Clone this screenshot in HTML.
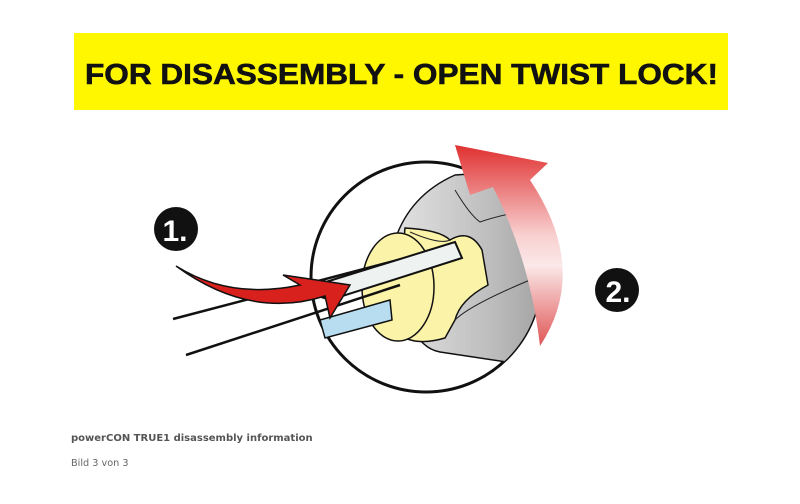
<!DOCTYPE html>
<html><head><style>
body{margin:0;background:#fff;width:800px;height:504px;overflow:hidden;font-family:"Liberation Sans",sans-serif}
.cap{position:absolute;left:71px;top:433px;font-size:10px;font-weight:bold;color:#555;font-family:"DejaVu Sans","Liberation Sans",sans-serif}
.sub{position:absolute;left:71px;top:458px;font-size:9.7px;color:#666;font-family:"DejaVu Sans","Liberation Sans",sans-serif}
</style></head><body>
<svg width="800" height="504" style="position:absolute;left:0;top:0">
<defs>
<linearGradient id="rg" x1="0" y1="0" x2="0" y2="1">
<stop offset="0" stop-color="#e03030"/><stop offset="0.45" stop-color="#f8d0d0"/><stop offset="0.6" stop-color="#fbe8e8"/><stop offset="1" stop-color="#e05555"/></linearGradient>
<linearGradient id="gg" x1="0" y1="0" x2="1" y2="0">
<stop offset="0" stop-color="#e2e2e2"/><stop offset="0.6" stop-color="#bcbcbc"/><stop offset="1" stop-color="#9a9a9a"/></linearGradient>
<clipPath id="cc"><circle cx="426" cy="277" r="115"/></clipPath>
</defs>
<rect x="74" y="33" width="654" height="77" fill="#fff700"/>
<text x="85" y="84" textLength="633" lengthAdjust="spacingAndGlyphs" font-size="29" font-weight="bold" fill="#111" stroke="#111" stroke-width="0.6">FOR DISASSEMBLY - OPEN TWIST LOCK!</text>
<circle cx="426" cy="277" r="115" fill="#fff" stroke="#111" stroke-width="3"/>
<g clip-path="url(#cc)">
<path d="M395 240 Q410 195 455 175 L560 168 L560 370 L440 352 Q400 345 395 240Z" fill="url(#gg)" stroke="#111" stroke-width="1.5"/>
<path d="M405 228 Q440 230 450 240 Q470 228 482 250 L488 285 Q460 300 455 320 L445 338 Q410 348 395 330 Z" fill="#fbf3a8" stroke="#111" stroke-width="1.5"/>
<path d="M410 232 Q440 245 450 240 M455 190 Q470 215 480 222 Q500 215 530 210 M455 320 Q470 305 530 280" stroke="#222" fill="none"/>
</g>
<ellipse cx="398" cy="287" rx="36" ry="54" fill="#fbf3a8" stroke="#111" stroke-width="1.5"/>
<path d="M173 319 L455 245 M186 355 L400 285" fill="none" stroke="#111" stroke-width="2.5"/>
<path d="M320 320 L390 300 L392 320 L325 338Z" fill="#b8ddf0" stroke="#111" stroke-width="1.5"/>
<path d="M300 290 L455 242 L462 258 L330 300Z" fill="#eef2f0" stroke="#111" stroke-width="2"/>
<path d="M176 266 Q230 300 300 285 L283 275 L350 285 L330 318 L325 296 Q250 320 176 266Z" fill="#d8201c" stroke="#111" stroke-width="1.5"/>
<path d="M540 346 Q590 270 530 180 L548 163 L455 145 L470 195 L493 187 Q530 260 540 346Z" fill="url(#rg)"/>
<circle cx="176" cy="229" r="22" fill="#111"/>
<text x="175" y="241" text-anchor="middle" font-size="30" font-weight="bold" fill="#fff">1.</text>
<circle cx="617" cy="290" r="22" fill="#111"/>
<text x="618" y="302" text-anchor="middle" font-size="30" font-weight="bold" fill="#fff">2.</text>
</svg>
<div class="cap">powerCON TRUE1 disassembly information</div>
<div class="sub">Bild 3 von 3</div>
</body></html>
